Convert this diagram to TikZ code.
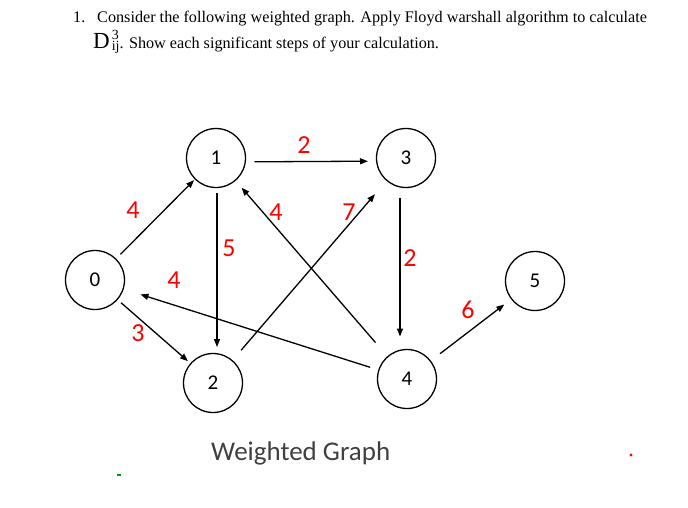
\documentclass[tikz,border=0pt]{standalone}
\usepackage{fontspec}
\setmainfont{Liberation Serif}
\newfontfamily\carl{Carlito}
\usetikzlibrary{arrows.meta}
\definecolor{capgray}{HTML}{404040}
\tikzset{
  vert/.style={draw=black, line width=1.3pt, circle, minimum size=59pt, inner sep=0pt, font=\carl\fontsize{21}{22}\selectfont},
  edge/.style={draw=black, line width=1.3pt, -{Triangle[length=8pt,width=6pt]}},
  wlabel/.style={text=red, inner sep=0pt, font=\carl\fontsize{26}{28}\selectfont},
  ttl/.style={anchor=base west, inner sep=0pt, font=\fontsize{16.2}{18}\selectfont}
}
\begin{document}
\begin{tikzpicture}[x=1pt,y=-1pt]
\useasboundingbox (0,0) rectangle (688,507);
% title
\node[ttl] (num) at (73,22) {1.};
\node[ttl] (t1) at (97,22) {Consider the following weighted graph. Apply Floyd warshall algorithm to calculate};
\node[ttl] (t2) at (93,48) {{\fontsize{23}{24}\selectfont D}\kern2pt\rlap{\raisebox{8.5pt}{\fontsize{14}{15}\selectfont 3}}\raisebox{-2.5pt}{\fontsize{14}{15}\selectfont ij}. Show each significant steps of your calculation.};
% vertices
\node[vert] (n0) at (95,280) {0};
\node[vert] (n1) at (216,158) {1};
\node[vert] (n3) at (406,158) {3};
\node[vert] (n2) at (213,383) {2};
\node[vert] (n4) at (407,379) {4};
\node[vert] (n5) at (535,281) {5};
% edges
\draw[edge, shorten <=6pt, shorten >=1pt] (n0) -- (n1);
\draw[edge, shorten <=4.5pt, shorten >=3pt] (n0) -- (n2);
\draw[edge, shorten <=38.5pt, shorten >=38pt] ([yshift=-4pt]n1.center) -- ([yshift=-3pt]n3.center);
\draw[edge, shorten <=35pt, shorten >=36pt] ([xshift=1pt]n1.center) -- ([xshift=4pt]n2.center);
\draw[edge, shorten <=18pt, shorten >=9pt] (n4) -- (n1);
\draw[edge, shorten <=13pt, shorten >=17.5pt] (n2) -- (n3);
\draw[edge, shorten <=39.5pt, shorten >=42.5pt] ([xshift=-6pt]n3.center) -- ([xshift=-7pt]n4.center);
\draw[edge, shorten <=8.5pt, shorten >=17.5pt] (n4) -- (n0);
\draw[edge, shorten <=11.5pt, shorten >=8.5pt] (n4) -- (n5);
% weights
\node[wlabel] (w01) at (133,210) {4};
\node[wlabel] (w02) at (138,333) {3};
\node[wlabel] (w13) at (304,145) {2};
\node[wlabel] (w12) at (229,248) {5};
\node[wlabel] (w41) at (276,212) {4};
\node[wlabel] (w23) at (349,212) {7};
\node[wlabel] (w34) at (410,258) {2};
\node[wlabel] (w40) at (174,280) {4};
\node[wlabel] (w45) at (468,310) {6};
% caption
\node[anchor=base west, inner sep=0pt, text=capgray, font=\carl\fontsize{27}{29}\selectfont] (cap) at (211,460) {Weighted Graph};
% marks
\fill[red] (631,455) circle (1.6pt);
\fill[green!60!black] (117,474) rectangle (121,476);
\end{tikzpicture}
\end{document}
